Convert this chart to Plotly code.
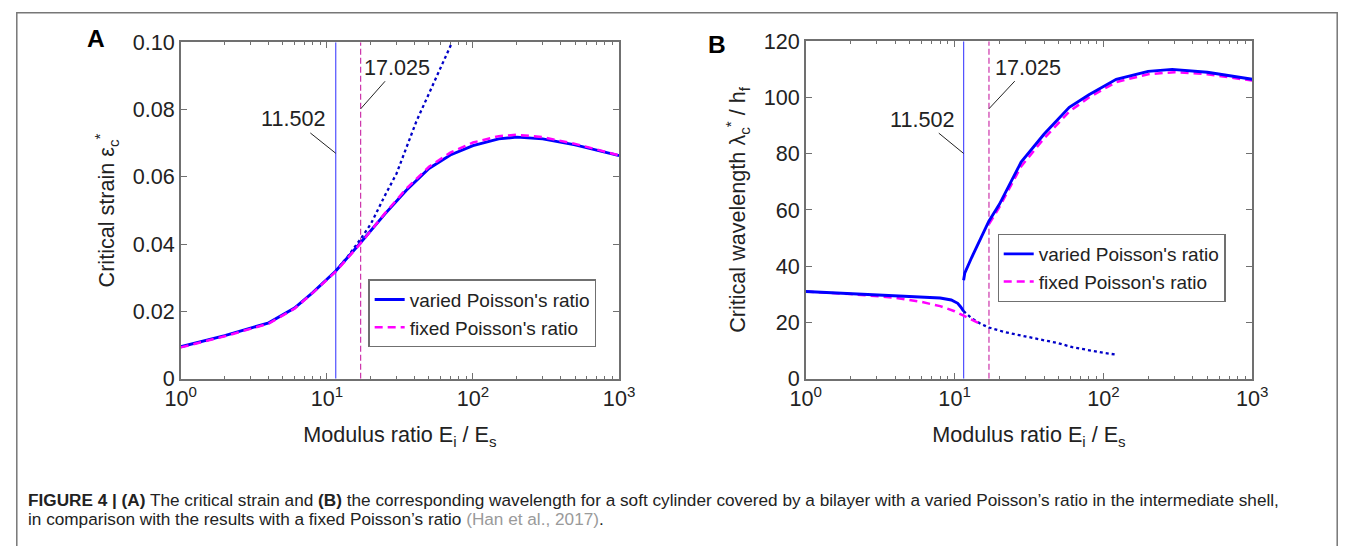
import plotly.graph_objects as go

# ---------------- data ----------------
crit_varied = 11.502
crit_fixed = 17.025

# Panel A: critical strain
a_x = [1, 2, 4, 6, 8, 11.5, 17, 25, 35, 50, 70, 100, 150, 200, 300, 500, 1000]
a_varied = [0.0095, 0.0128, 0.0166, 0.0210, 0.0256, 0.0320, 0.0404, 0.0490, 0.0560, 0.0625,
            0.0665, 0.0693, 0.0713, 0.0718, 0.0713, 0.0695, 0.0663]
a_fixed = [0.0093, 0.0126, 0.0164, 0.0208, 0.0255, 0.0318, 0.0402, 0.0492, 0.0565, 0.0630,
           0.0672, 0.0702, 0.0721, 0.0725, 0.0718, 0.0698, 0.0664]
a_dot_x = [11.5, 14, 17, 20, 25, 30, 41, 55, 72]
a_dot = [0.032, 0.0365, 0.0415, 0.046, 0.0545, 0.061, 0.0765, 0.089, 0.100]

# Panel B: critical wavelength
b_low_x = [1, 2, 4, 6, 8, 9.5, 10.5, 11.0, 11.5]
b_low = [31.0, 30.3, 29.6, 29.2, 28.7, 28.0, 26.8, 25.5, 24.0]
b_up_x = [11.5, 11.7, 13, 15, 17, 20, 28, 40, 59, 80, 122, 200, 290, 500, 1000]
b_up = [35.0, 37.5, 43.0, 50.0, 56.0, 62.0, 77.0, 87.0, 96.5, 101.0, 106.5, 109.3, 110.0, 109.0, 106.5]
b_dot_x = [11.5, 13, 15, 17, 22, 30, 38, 50, 62, 80, 100, 124]
b_dot = [24.0, 21.5, 19.5, 18.2, 16.5, 15.0, 14.1, 12.6, 11.2, 10.0, 9.2, 8.5]
b_fix_low_x = [1, 2, 4, 6, 8, 10, 11.5, 13, 14.5]
b_fix_low = [31.0, 30.1, 28.8, 27.3, 25.8, 24.0, 22.4, 21.0, 19.8]
b_fix_up_x = [17.025, 20, 28, 40, 59, 80, 122, 200, 300, 500, 1000]
b_fix_up = [55.0, 61.0, 75.5, 85.5, 95.0, 100.0, 105.5, 108.3, 109.0, 108.3, 106.0]

x_ticks = [1, 10, 100, 1000]
x_ticktext = ["10<sup>0</sup>", "10<sup>1</sup>", "10<sup>2</sup>", "10<sup>3</sup>"]
a_yticks = [0, 0.02, 0.04, 0.06, 0.08, 0.10]
a_yticktext = ["0", "0.02", "0.04", "0.06", "0.08", "0.10"]
b_yticks = [0, 20, 40, 60, 80, 100, 120]

caption1 = ("<b>FIGURE 4 | (A)</b> The critical strain and <b>(B)</b> the corresponding wavelength for a soft "
            "cylinder covered by a bilayer with a varied Poisson\u2019s ratio in the intermediate shell,")
caption2 = ("in comparison with the results with a fixed Poisson\u2019s ratio "
            "<span style='color:#9a9a9a'>(Han et al., 2017)</span>.")

# ---------------- styling ----------------
W, H = 1354, 546
# the photograph maps page pixels as X = OX + SX*x, Y = OY + SY*y; place items so that
# they land on the reference pixel positions
OX, OY, SX, SY = 15.0, 10.5, 0.97784, 0.96154


def px(x):
    return ((x - OX) / SX) / W


def py(y):
    return 1 - ((y - OY) / SY) / H


FONT = "Liberation Sans, Arial, sans-serif"
BLUE = "#0000ff"
MAG = "#ff00ff"
VBLUE = "#5050ff"
VMAG = "#cc33aa"
AX = "#707070"
TXT = "#222222"
FS = 21.6

minor_vals = [m * 10 ** d for d in range(3) for m in range(2, 10)]

fig = go.Figure()

# Panel A
fig.add_trace(go.Scatter(x=[crit_varied, crit_varied], y=[0, 0.1], mode="lines",
                         line=dict(color=VBLUE, width=1.2), showlegend=False, xaxis="x", yaxis="y"))
fig.add_trace(go.Scatter(x=[crit_fixed, crit_fixed], y=[0, 0.1], mode="lines",
                         line=dict(color=VMAG, width=1.2, dash="6px,3px"), showlegend=False, xaxis="x", yaxis="y"))
fig.add_trace(go.Scatter(x=a_dot_x, y=a_dot, mode="lines", line=dict(color="#0000c8", width=2.3, dash="dot"),
                         showlegend=False, xaxis="x", yaxis="y"))
fig.add_trace(go.Scatter(x=a_x, y=a_varied, mode="lines", line=dict(color=BLUE, width=2.9),
                         name="varied Poisson's ratio", legend="legend", xaxis="x", yaxis="y"))
fig.add_trace(go.Scatter(x=a_x, y=a_fixed, mode="lines", line=dict(color=MAG, width=2.5, dash="8px,5px"),
                         name="fixed Poisson's ratio", legend="legend", xaxis="x", yaxis="y"))

# Panel B
fig.add_trace(go.Scatter(x=[crit_varied, crit_varied], y=[0, 120], mode="lines",
                         line=dict(color=VBLUE, width=1.2), showlegend=False, xaxis="x2", yaxis="y2"))
fig.add_trace(go.Scatter(x=[crit_fixed, crit_fixed], y=[0, 120], mode="lines",
                         line=dict(color=VMAG, width=1.2, dash="6px,3px"), showlegend=False, xaxis="x2", yaxis="y2"))
fig.add_trace(go.Scatter(x=b_dot_x, y=b_dot, mode="lines", line=dict(color="#0000c8", width=2.3, dash="dot"),
                         showlegend=False, xaxis="x2", yaxis="y2"))
fig.add_trace(go.Scatter(x=b_fix_low_x, y=b_fix_low, mode="lines", line=dict(color=MAG, width=2.5, dash="8px,5px"),
                         showlegend=False, xaxis="x2", yaxis="y2"))
fig.add_trace(go.Scatter(x=b_fix_up_x, y=b_fix_up, mode="lines", line=dict(color=MAG, width=2.5, dash="8px,5px"),
                         showlegend=False, xaxis="x2", yaxis="y2"))
fig.add_trace(go.Scatter(x=b_low_x, y=b_low, mode="lines", line=dict(color=BLUE, width=2.9),
                         showlegend=False, xaxis="x2", yaxis="y2"))
fig.add_trace(go.Scatter(x=b_up_x, y=b_up, mode="lines", line=dict(color=BLUE, width=2.9),
                         name="varied Poisson's ratio", legend="legend2", xaxis="x2", yaxis="y2"))
fig.add_trace(go.Scatter(x=[None], y=[None], mode="lines", line=dict(color=MAG, width=2.5, dash="8px,5px"),
                         name="fixed Poisson's ratio", legend="legend2", xaxis="x2", yaxis="y2"))


def xax(domain, anchor):
    return dict(type="log", range=[0, 3], domain=domain, anchor=anchor,
                tickvals=x_ticks, ticktext=x_ticktext, ticks="inside", ticklen=6,
                tickcolor=AX, showline=True, linecolor=AX, linewidth=1.5, mirror="ticks",
                showgrid=False, zeroline=False,
                minor=dict(tickvals=minor_vals, ticks="inside", ticklen=3, tickcolor=AX, showgrid=False),
                tickfont=dict(family=FONT, size=FS, color=TXT),
                title=dict(text="Modulus ratio E<sub>i</sub> / E<sub>s</sub>",
                           font=dict(family=FONT, size=FS, color=TXT), standoff=17))


def yax(domain, anchor, rng, tv, tt, title):
    return dict(range=rng, domain=domain, anchor=anchor, tickvals=tv, ticktext=tt,
                ticks="inside", ticklen=6, tickcolor=AX, showline=True, linecolor=AX, linewidth=1.5,
                mirror="ticks", showgrid=False, zeroline=False,
                tickfont=dict(family=FONT, size=FS, color=TXT),
                title=dict(text=title, font=dict(family=FONT, size=FS, color=TXT), standoff=12))


leg_common = dict(xanchor="left", yanchor="top", bgcolor="white", bordercolor=AX, borderwidth=1.2,
                  font=dict(family=FONT, size=19, color=TXT), tracegroupgap=0, itemwidth=30)

fig.update_layout(
    width=W, height=H, margin=dict(l=0, r=0, t=0, b=0),
    paper_bgcolor="white", plot_bgcolor="white",
    xaxis=xax([px(180), px(619)], "y"),
    yaxis=yax([py(380), py(41)], "x", [0, 0.1], a_yticks, a_yticktext,
              "Critical strain \u03b5<sub>c</sub><sup>*</sup>"),
    xaxis2=xax([px(806), px(1253)], "y2"),
    yaxis2=yax([py(380), py(40)], "x2", [0, 120], b_yticks, [str(v) for v in b_yticks],
               "Critical wavelength \u03bb<sub>c</sub><sup>*</sup> / h<sub>f</sub>"),
    legend=dict(x=px(368), y=py(280), **leg_common),
    legend2=dict(x=px(998), y=py(234), **leg_common),
)

ann_font = dict(family=FONT, size=FS, color=TXT)
annotations = [
    dict(x=1.0608, y=0.067, xref="x", yref="y", text="11.502", showarrow=True, arrowhead=0,
         arrowwidth=1, arrowcolor="#222", ax=-42 / SX, ay=-33 / SY, font=ann_font),
    dict(x=1.2311, y=0.0802, xref="x", yref="y", text="17.025", showarrow=True, arrowhead=0,
         arrowwidth=1, arrowcolor="#222", ax=36 / SX, ay=-40 / SY, font=ann_font),
    dict(x=1.0608, y=80.1, xref="x2", yref="y2", text="11.502", showarrow=True, arrowhead=0,
         arrowwidth=1, arrowcolor="#222", ax=-41 / SX, ay=-33 / SY, font=ann_font),
    dict(x=1.2311, y=96, xref="x2", yref="y2", text="17.025", showarrow=True, arrowhead=0,
         arrowwidth=1, arrowcolor="#222", ax=38 / SX, ay=-40 / SY, font=ann_font),
    dict(x=px(95), y=py(37), xref="paper", yref="paper", text="<b>A</b>", showarrow=False,
         xanchor="center", yanchor="middle", font=dict(family=FONT, size=24.5, color="black")),
    dict(x=px(717), y=py(43), xref="paper", yref="paper", text="<b>B</b>", showarrow=False,
         xanchor="center", yanchor="middle", font=dict(family=FONT, size=24.5, color="black")),
    dict(x=px(25), y=py(502), xref="paper", yref="paper", text=caption1, showarrow=False,
         xanchor="left", yanchor="middle", font=dict(family=FONT, size=17.2, color="#222")),
    dict(x=px(25), y=py(521), xref="paper", yref="paper", text=caption2, showarrow=False,
         xanchor="left", yanchor="middle", font=dict(family=FONT, size=17.2, color="#222")),
]
fig.update_layout(annotations=annotations)

# outer frame, kept just inside the figure edges
fig.add_shape(type="rect", xref="paper", yref="paper", x0=0.0006, x1=0.9994, y0=-0.05, y1=0.9986,
              line=dict(color="#777", width=1.5), fillcolor="rgba(0,0,0,0)", layer="below")

post = ("document.documentElement.style.margin='0';document.documentElement.style.padding='0';"
        "document.body.style.margin='0';document.body.style.padding='0';document.body.style.overflow='hidden';"
        "var d=document.getElementById('{plot_id}');d.style.position='fixed';d.style.left='0px';d.style.top='0px';")
fig.write_html("out.html", config={"displayModeBar": False}, post_script=post)
